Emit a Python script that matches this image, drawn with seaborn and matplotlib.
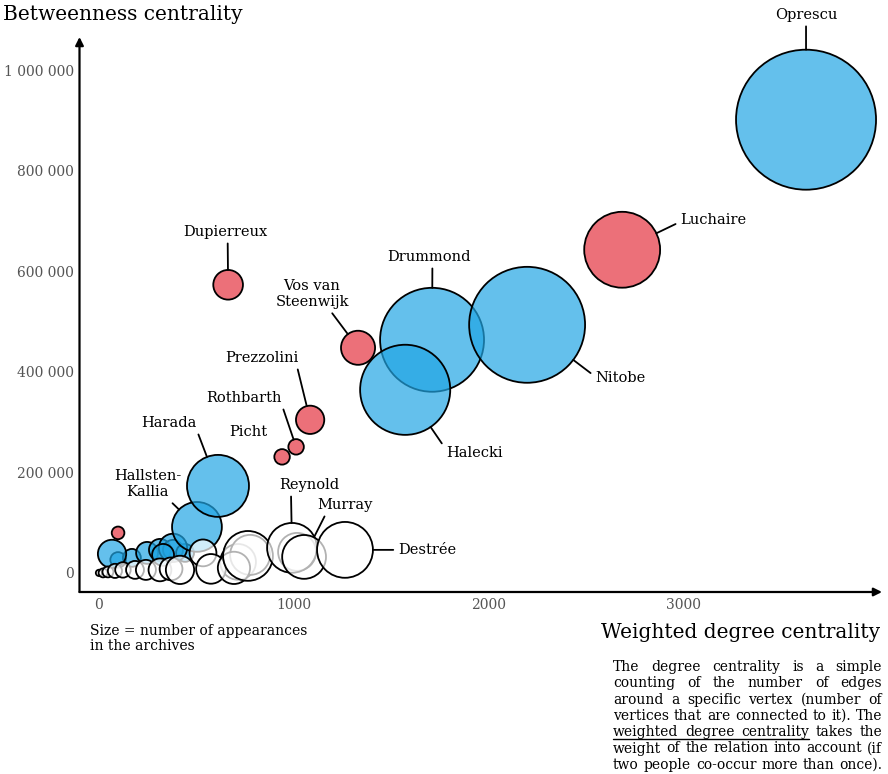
import matplotlib
matplotlib.use("Agg")
import numpy as np
import pandas as pd
import seaborn as sns
import matplotlib.pyplot as plt
from matplotlib.ticker import FuncFormatter

# data (drawing order matters: later bubbles sit on top)
persons = [
    "", "", "",
    "", "", "", "", "", "", "", "", "", "",
    "Hallsten-Kallia", "Harada", "Drummond", "Halecki", "Nitobe", "Oprescu",
    "Luchaire", "Dupierreux", "Vos van Steenwijk", "Prezzolini", "Rothbarth", "Picht",
    "", "", "", "", "", "", "", "", "", "", "", "", "", "",
    "Reynold", "Murray", "Destrée",
]
weighted_degree = [
    714, 776, 1017,
    98, 169, 247, 313, 380, 442, 380, 329, 67, 98,
    503, 611, 1710, 1572, 2198, 3630,
    2686, 663, 1330, 1084, 1012, 940,
    0, 21, 46, 82, 123, 185, 241, 313, 370, 416, 534, 575, 693, 765,
    991, 1053, 1263,
]
betweenness = [
    21900, 35800, 41800,
    25900, 29900, 39800, 45800, 45800, 39800, 49800, 35800, 37800, 79600,
    91500, 173100, 463700, 364200, 493500, 901500,
    642800, 573100, 447800, 304500, 250700, 230800,
    0, 0, 2000, 4000, 6000, 6000, 6000, 6000, 8000, 6000, 39800, 8000, 10000, 33800,
    49800, 31800, 45800,
]
appearances = [
    32, 40, 36,
    6, 8, 12, 12, 10, 8, 20, 12, 20, 4,
    62, 96, 270, 203, 336, 490,
    144, 22, 29, 20, 6, 6,
    1, 2, 3, 5, 6, 8, 10, 13, 13, 20, 18, 22, 26, 62,
    62, 48, 78,
]
groups = (
    ["white"] * 3
    + ["blue"] * 9 + ["red"]
    + ["blue"] * 6
    + ["red"] * 6
    + ["white"] * 14
    + ["white"] * 3
)

x_ticks = [0, 1000, 2000, 3000]
y_ticks = [0, 200000, 400000, 600000, 800000, 1000000]

desc_lines = [
    "The degree centrality is a simple",
    "counting of the number of edges",
    "around a specific vertex (number of",
    "vertices that are connected to it). The",
    "weighted degree centrality takes the",
    "weight of the relation into account (if",
    "two people co-occur more than once).",
]

group_colors = {
    "blue": (34 / 255, 166 / 255, 228 / 255, 0.7),
    "red": (229 / 255, 51 / 255, 65 / 255, 0.7),
    "white": (1, 1, 1, 0.7),
}

# label text, offset of text centre from bubble (px), leader start on text box
label_layout = {
    "Oprescu": ("Oprescu", (0, 105), (0.5, 0)),
    "Luchaire": ("Luchaire", (91, 30), (0, 0.35)),
    "Nitobe": ("Nitobe", (93, -53), (0, 0.6)),
    "Drummond": ("Drummond", (-3, 83), (0.54, 0)),
    "Halecki": ("Halecki", (69, -63), (0, 0.75)),
    "Vos van Steenwijk": ("Vos van\nSteenwijk", (-46, 54), (0.73, 0)),
    "Dupierreux": ("Dupierreux", (-3, 53), (0.53, 0)),
    "Prezzolini": ("Prezzolini", (-48, 62), (0.97, 0)),
    "Rothbarth": ("Rothbarth", (-52, 49), (1, 0)),
    "Picht": ("Picht", (-34, 25), None),
    "Harada": ("Harada", (-49, 63), (1, 0)),
    "Hallsten-Kallia": ("Hallsten-\nKallia", (-49, 43), (0.8, 0)),
    "Reynold": ("Reynold", (17, 63), (0.2, 0)),
    "Murray": ("Murray", (41, 52), (0.17, 0)),
    "Destrée": ("Destrée", (82, 0), (0, 0.5)),
}

df = pd.DataFrame({
    "person": persons,
    "wdc": weighted_degree,
    "btw": betweenness,
    "app": appearances,
    "group": groups,
})

sns.set_style("white")
plt.rcParams["font.family"] = ["DejaVu Serif"]
plt.rcParams["text.color"] = "black"

W, H = 888, 774
fig = plt.figure(figsize=(W / 100, H / 100), dpi=100)
ax = fig.add_axes([79.5 / W, 1 - 592 / H, (882 - 79.5) / W, (592 - 37) / H])

S_MAX = 10161  # marker area (pt^2) of the biggest bubble
A_MAX = max(appearances)
sns.scatterplot(
    data=df, x="wdc", y="btw", hue="group", size="app",
    palette=group_colors, sizes=(0, S_MAX), size_norm=(0, A_MAX),
    edgecolor="black", linewidth=1.3, legend=False, ax=ax, clip_on=False,
)

ax.set_xlim(-100, 4020)
ax.set_ylim(-38000, 1066000)
ax.set_xticks(x_ticks)
ax.set_yticks(y_ticks)
ax.yaxis.set_major_formatter(FuncFormatter(lambda v, p: f"{int(v):,}".replace(",", " ")))
ax.tick_params(length=0, labelsize=10, labelcolor="#555555", pad=4)
ax.set_xlabel("")
ax.set_ylabel("")
sns.despine(ax=ax, left=True, bottom=True)

# axis arrows
for end in [(1, 0), (0, 1)]:
    ax.annotate("", xy=end, xytext=(0, 0), xycoords="axes fraction",
                arrowprops=dict(arrowstyle="-|>", lw=1.6, color="black",
                                mutation_scale=12, shrinkA=0, shrinkB=0))

# labels with leader lines
for _, row in df[df["person"] != ""].iterrows():
    text, offset, relpos = label_layout[row["person"]]
    arrow = None
    if relpos is not None:
        r_pt = np.sqrt(row["app"] / A_MAX * S_MAX) / 2
        arrow = dict(arrowstyle="-", lw=1.3, color="black", relpos=relpos,
                     shrinkA=1, shrinkB=r_pt)
    ax.annotate(text, xy=(row["wdc"], row["btw"]), xytext=offset,
                textcoords="offset pixels", ha="center", va="center",
                fontsize=10.5, color="black", arrowprops=arrow,
                annotation_clip=False)

fig.text(3 / W, 1 - 15 / H, "Betweenness centrality", fontsize=14.5, va="center")
fig.text(880 / W, 1 - 632 / H, "Weighted degree centrality", fontsize=14.5,
         ha="right", va="center")
fig.text(90 / W, 1 - 624 / H, "Size = number of appearances\nin the archives",
         fontsize=10, va="top", linespacing=1.1)

# justified description box
renderer = fig.canvas.get_renderer()
box_left, box_w = 613, 269
fs = 12
desc_font = dict(family="DejaVu Serif", stretch="condensed")
probe = [fig.text(0, 0, l, fontsize=fs, **desc_font) for l in desc_lines]
widest = max(t.get_window_extent(renderer).width for t in probe)
for t in probe:
    t.remove()
if widest > box_w - 2:
    fs = fs * (box_w - 2) / widest

baseline0, step = 671, 16.3
for i, line in enumerate(desc_lines):
    y = baseline0 + i * step
    words = line.split()
    texts = [fig.text(0, 0, w, fontsize=fs, va="baseline", **desc_font) for w in words]
    widths = [t.get_window_extent(renderer).width for t in texts]
    if i == len(desc_lines) - 1:
        gap = fs * 0.32 * 100 / 72
    else:
        gap = (box_w - sum(widths)) / (len(words) - 1)
    x = box_left
    starts = []
    for t, w in zip(texts, widths):
        t.set_position((x / W, 1 - y / H))
        starts.append(x)
        x += w + gap
    if i == 4:
        x_end = starts[2] + widths[2]
        fig.add_artist(plt.Line2D([box_left / W, x_end / W],
                                  [1 - (y + 3) / H, 1 - (y + 3) / H],
                                  color="black", lw=1.0))

fig.savefig("out.png", dpi=100)
